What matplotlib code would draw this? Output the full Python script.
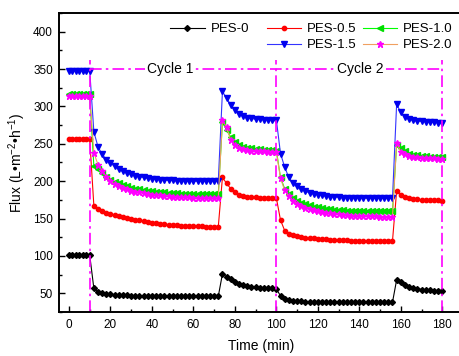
import matplotlib
matplotlib.use("Agg")
import matplotlib.pyplot as plt
from matplotlib.lines import Line2D
from matplotlib.ticker import MultipleLocator

plt.rcParams['font.family'] = ['Liberation Sans', 'DejaVu Sans']
plt.rcParams['mathtext.fontset'] = 'custom'
plt.rcParams['mathtext.rm'] = 'Liberation Sans'
plt.rcParams['mathtext.it'] = 'Liberation Sans:italic'

# time points (min): pure water, fouling 1, recovery 1, fouling 2, recovery 2
t_pure = [0, 1.67, 3.33, 5, 6.67, 8.33, 10]
t_foul1 = list(range(12, 73, 2))
t_rec1 = list(range(74, 101, 2))
t_foul2 = list(range(102, 157, 2))
t_rec2 = list(range(158, 181, 2))
time = t_pure + t_foul1 + t_rec1 + t_foul2 + t_rec2

pes_0 = ([101] * 7
         + [56.5, 52, 50, 49, 48.5, 48, 48, 47.5, 47.5, 47, 47, 47, 46.5, 46.5, 46.5, 46.5,
            46, 46, 46, 46, 46, 46, 46, 46, 46, 46, 46, 46, 46, 46, 46]
         + [76, 72, 68.5, 65.5, 63, 61.5, 60, 59, 58, 57.5, 57, 56.5, 56.5, 56]
         + [46.5, 42.5, 41, 40, 39.5, 39.5, 39, 39, 39, 38.5, 38.5, 38.5, 38.5, 38.5,
            38, 38, 38, 38, 38, 38, 38, 38, 38, 38, 38, 38, 38, 38]
         + [68, 64.5, 61.5, 59, 57.5, 56, 55, 54.5, 54, 53.5, 53.5, 53])

pes_05 = ([256] * 7
          + [167, 163, 160, 158, 156.5, 155, 153.5, 152, 150.5, 149.5, 148.5, 147.5, 146.5,
             145.5, 144.5, 144, 143, 142.5, 142, 141.5, 141, 140.5, 140, 140, 139.5, 139.5,
             139.5, 139, 139, 139, 139]
          + [205, 197, 190, 185, 182, 180.5, 179.5, 179, 178.5, 178, 178, 177.5, 177.5, 177.5]
          + [148, 134, 130, 128, 126.5, 125.5, 124.5, 124, 123.5, 123, 122.5, 122, 121.5,
             121.5, 121, 121, 121, 120.5, 120.5, 120.5, 120.5, 120, 120, 120, 120, 120, 120, 120]
          + [187, 182, 179, 177, 176, 175.5, 175, 175, 174.5, 174.5, 174.5, 174])

pes_10 = ([316] * 7
          + [220, 216, 211, 206, 202, 199, 197, 195, 193, 191.5, 190, 189, 188, 187, 186.5,
             186, 185.5, 185, 184.5, 184, 184, 183.5, 183.5, 183, 183, 183, 183, 183, 183, 183, 183]
          + [279, 268, 259, 253, 249, 246, 245, 244, 243, 242.5, 242, 242, 241.5, 241]
          + [205, 190, 183, 178, 174, 171, 169, 167.5, 166, 165, 164, 163, 162.5, 162, 161.5,
             161, 160.5, 160.5, 160, 160, 160, 160, 159.5, 159.5, 159.5, 159.5, 159.5, 159.5]
          + [249, 244, 240, 237, 235.5, 234.5, 234, 233.5, 233, 232.5, 232.5, 232])

pes_15 = ([348] * 7
          + [266, 246, 236, 229, 224, 220, 216, 213, 211, 209, 207, 206, 205, 204, 203, 202.5,
             202, 201.5, 201, 201, 200.5, 200.5, 200, 200, 200, 200, 200, 200, 200, 200, 200]
          + [320, 311, 302, 295, 290, 287, 285, 284, 283, 283, 282.5, 282.5, 282, 282]
          + [237, 219, 205, 197, 193, 189, 186.5, 184.5, 183, 182, 181, 180, 179.5, 179, 178.5,
             178, 178, 177.5, 177.5, 177.5, 177.5, 177, 177, 177, 177, 177, 177, 177]
          + [303, 292, 286, 283, 281.5, 280.5, 280, 279.5, 279, 279, 278.5, 278.5])

pes_20 = ([314] * 7
          + [238, 222, 214, 206, 200, 196, 193, 191, 189, 187.5, 186, 185, 184, 183, 182, 181.5,
             181, 180.5, 180, 179.5, 179, 179, 178.5, 178.5, 178, 178, 178, 178, 178, 178, 178]
          + [282, 272, 255, 248, 245, 243, 242, 241, 240.5, 240, 240, 239.5, 239.5, 239]
          + [204, 188, 180, 174, 170, 167, 164.5, 162.5, 161, 159.5, 158.5, 157.5, 157, 156,
             155.5, 155, 154.5, 154, 154, 153.5, 153.5, 153, 153, 153, 152.5, 152.5, 152.5, 152.5]
          + [251, 239, 236, 234, 233, 232, 231.5, 231, 230.5, 230.5, 230, 230])

labels = ['PES-0', 'PES-0.5', 'PES-1.0', 'PES-1.5', 'PES-2.0']
cycle_edges = [10, 100, 180]
cycle_names = ['Cycle 1', 'Cycle 2']
cycle_text_x = [48.7, 140.6]

fig = plt.figure(figsize=(4.59, 3.56), dpi=100)
ax = fig.add_axes([0.1277, 0.1236, 0.881, 0.8399])

styles = [
    dict(color='black', marker='D', ms=3.0, mfc='black', mec='black'),
    dict(color='red', marker='o', ms=3.1, mfc='red', mec='red'),
    dict(color='#00ff00', marker='<', ms=4.0, mfc='#00dd00', mec='#00dd00'),
    dict(color='#3333ff', marker='v', ms=4.6, mfc='#0000ee', mec='#0000ee'),
    dict(color='#f0a060', marker='*', ms=4.8, mfc='#ff00ff', mec='#ff00ff'),
]
series = [pes_0, pes_05, pes_10, pes_15, pes_20]
handles = []
for y, lab, st in zip(series, labels, styles):
    h, = ax.plot(time, y, lw=0.8, label=lab, **st)
    handles.append(h)

# cycle markers
dashdot = (0, (7, 2.5, 1.5, 2.5))
ax.vlines(cycle_edges, 25, 362, colors='#ff00ff', linestyles=[dashdot], lw=1.2)
ax.hlines(350, cycle_edges[0], cycle_edges[-1], colors='#ff00ff', linestyles=[dashdot], lw=1.2)
for x, name in zip(cycle_text_x, cycle_names):
    ax.text(x, 350, name, ha='center', va='center', fontsize=10,
            bbox=dict(facecolor='white', edgecolor='none', pad=1.5))

ax.set_xlim(-5, 190)
ax.set_ylim(25, 425)
ax.xaxis.set_major_locator(MultipleLocator(20))
ax.xaxis.set_minor_locator(MultipleLocator(10))
ax.yaxis.set_major_locator(MultipleLocator(50))
ax.yaxis.set_minor_locator(MultipleLocator(25))
ax.set_yticks(range(50, 401, 50))
ax.tick_params(which='both', direction='in', labelsize=8.5, width=1)
ax.tick_params(which='major', length=4)
ax.tick_params(which='minor', length=2)
ax.tick_params(axis='x', pad=5)
ax.tick_params(axis='y', pad=4)
for sp in ax.spines.values():
    sp.set_linewidth(1.4)

ax.set_xlabel('Time (min)', fontsize=10, labelpad=6)
ax.set_ylabel('Flux (L\u2022m$^{-2}$\u2022h$^{-1}$)', fontsize=10, labelpad=4)

blank = Line2D([], [], linestyle='none', marker='none')
leg_handles = [handles[0], blank, handles[1], handles[3], handles[2], handles[4]]
leg_labels = [labels[0], 'PES-0.5', labels[1], labels[3], labels[2], labels[4]]
leg = ax.legend(leg_handles, leg_labels, ncol=3, frameon=False, fontsize=9.5,
                numpoints=1, handlelength=2.6, handletextpad=0.45, columnspacing=0.5,
                labelspacing=0.3, loc='upper right', bbox_to_anchor=(453 / 459, 1 - 23 / 356),
                bbox_transform=fig.transFigure, borderaxespad=0, borderpad=0)
leg.get_texts()[1].set_alpha(0)

fig.savefig('out.png', dpi=100)
